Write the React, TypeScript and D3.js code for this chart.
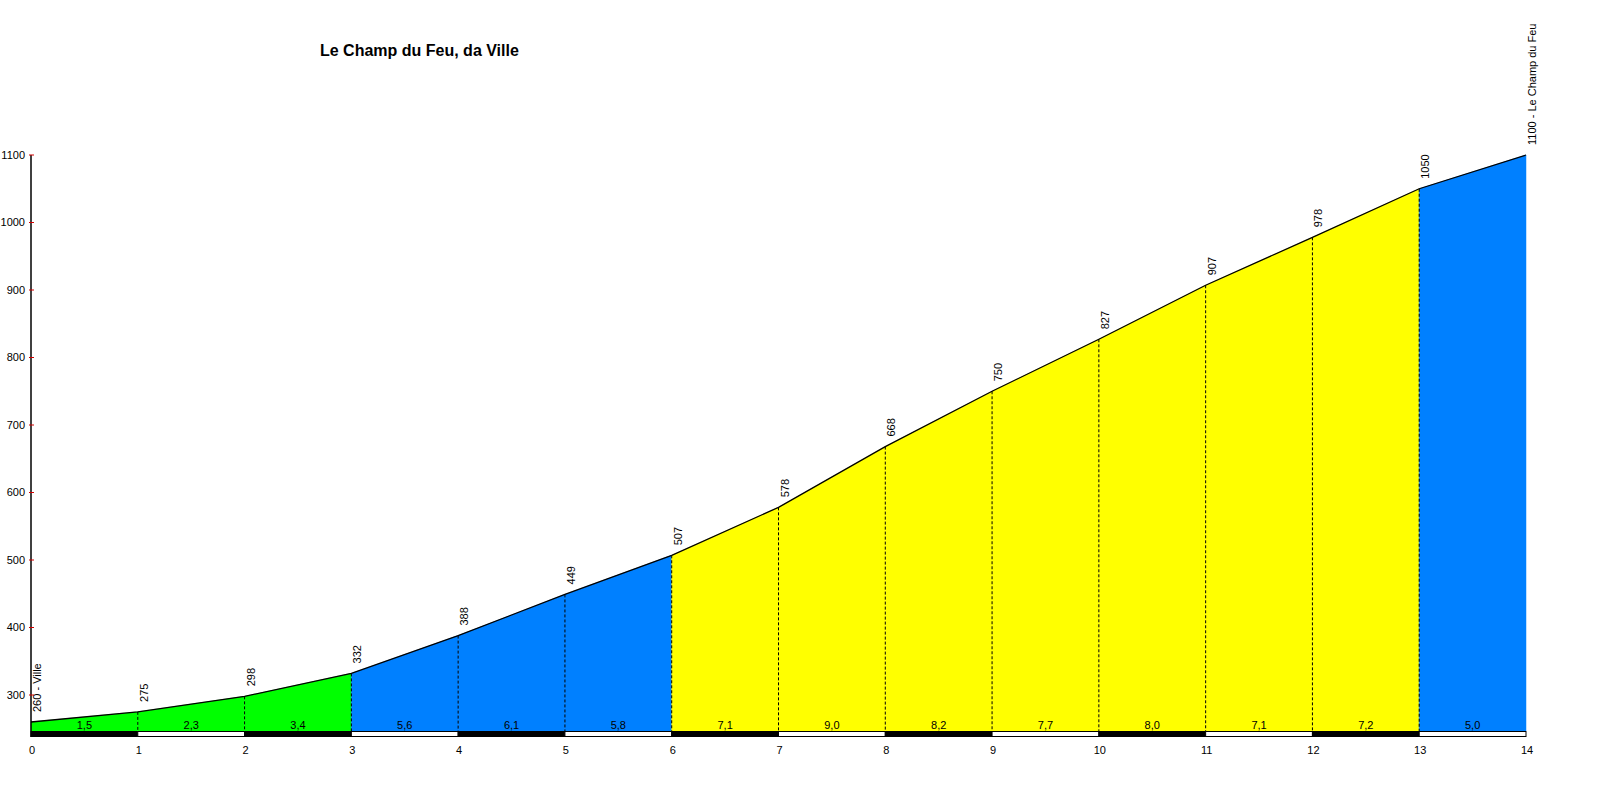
import React, { useEffect, useRef } from 'react';
import * as d3 from 'd3';

const title = 'Le Champ du Feu, da Ville';
const startName = 'Ville';
const endName = 'Le Champ du Feu';

// km marks and elevation (m) at each km
const kms = [0, 1, 2, 3, 4, 5, 6, 7, 8, 9, 10, 11, 12, 13, 14];
const elevations = [260, 275, 298, 332, 388, 449, 507, 578, 668, 750, 827, 907, 978, 1050, 1100];
// average gradient (%) of each km
const gradients = [1.5, 2.3, 3.4, 5.6, 6.1, 5.8, 7.1, 9.0, 8.2, 7.7, 8.0, 7.1, 7.2, 5.0];
const yTicks = [300, 400, 500, 600, 700, 800, 900, 1000, 1100];

const FONT = '"Liberation Sans", Arial, sans-serif';

const App: React.FC = () => {
  const svgRef = useRef<SVGSVGElement>(null);

  useEffect(() => {
    document.body.style.margin = '0';
    if (!svgRef.current) return;
    const svg = d3.select(svgRef.current);
    svg.selectAll('*').remove();

    const x = d3.scaleLinear().domain([0, 14]).range([31, 1526]);
    const y = d3.scaleLinear().domain([300, 1100]).range([695, 155]);
    const baseY = 731;
    const stripH = 6;

    const gradeColor = d3.scaleThreshold<number, string>()
      .domain([5, 7])
      .range(['#00ff00', '#0080ff', '#ffff00']);

    const fmt = (v: number) => d3.format('.1f')(v).replace('.', ',');

    const points: [number, number][] = kms.map((k, i) => [k, elevations[i]]);

    // coloured fill per km
    const area = d3.area<[number, number]>()
      .x(d => x(d[0]))
      .y0(baseY)
      .y1(d => y(d[1]));

    gradients.forEach((g, i) => {
      svg.append('path')
        .attr('d', area([points[i], points[i + 1]]) as string)
        .attr('fill', gradeColor(g))
        .attr('stroke', gradeColor(g))
        .attr('stroke-width', 0.5);
    });

    // dashed km separators
    kms.slice(1, -1).forEach((k, i) => {
      svg.append('line')
        .attr('x1', x(k)).attr('x2', x(k))
        .attr('y1', y(elevations[i + 1])).attr('y2', baseY)
        .attr('stroke', '#000')
        .attr('stroke-width', 1)
        .attr('stroke-dasharray', '3,2');
    });

    // profile line
    const line = d3.line<[number, number]>()
      .x(d => x(d[0]))
      .y(d => y(d[1]));
    svg.append('path')
      .attr('d', line(points) as string)
      .attr('fill', 'none')
      .attr('stroke', '#000')
      .attr('stroke-width', 1.3);

    // black/white km strip
    gradients.forEach((_, i) => {
      const black = i % 2 === 0;
      svg.append('rect')
        .attr('x', x(kms[i]))
        .attr('y', baseY + 0.5)
        .attr('width', x(kms[i + 1]) - x(kms[i]))
        .attr('height', stripH - 1)
        .attr('fill', black ? '#000' : '#fff')
        .attr('stroke', '#000')
        .attr('stroke-width', 1);
    });

    // gradient labels
    gradients.forEach((g, i) => {
      svg.append('text')
        .attr('x', (x(kms[i]) + x(kms[i + 1])) / 2)
        .attr('y', 729)
        .attr('text-anchor', 'middle')
        .attr('font-family', FONT)
        .attr('font-size', 11)
        .attr('fill', '#000')
        .text(fmt(g));
    });

    // elevation labels (rotated)
    kms.forEach((k, i) => {
      let label = String(elevations[i]);
      if (i === 0) label = `${elevations[i]} - ${startName}`;
      if (i === kms.length - 1) label = `${elevations[i]} - ${endName}`;
      const px = x(k) + 10;
      const py = y(elevations[i]) - 10;
      svg.append('text')
        .attr('transform', `translate(${px},${py}) rotate(-90)`)
        .attr('text-anchor', 'start')
        .attr('font-family', FONT)
        .attr('font-size', 11)
        .attr('fill', '#000')
        .text(label);
    });

    // y axis
    svg.append('line')
      .attr('x1', 31).attr('x2', 31)
      .attr('y1', y(1100)).attr('y2', baseY + stripH)
      .attr('stroke', '#000')
      .attr('stroke-width', 1.5);

    yTicks.forEach(t => {
      svg.append('line')
        .attr('x1', 29).attr('x2', 34)
        .attr('y1', y(t)).attr('y2', y(t))
        .attr('stroke', '#d00000')
        .attr('stroke-width', 1);
      svg.append('text')
        .attr('x', 25)
        .attr('y', y(t))
        .attr('dy', '0.35em')
        .attr('text-anchor', 'end')
        .attr('font-family', FONT)
        .attr('font-size', 11)
        .attr('fill', '#000')
        .text(t);
    });

    // x axis labels
    kms.forEach(k => {
      svg.append('text')
        .attr('x', x(k) + 1)
        .attr('y', 754)
        .attr('text-anchor', 'middle')
        .attr('font-family', FONT)
        .attr('font-size', 11)
        .attr('fill', '#000')
        .text(k);
    });

    // title
    svg.append('text')
      .attr('x', 320)
      .attr('y', 56)
      .attr('font-family', FONT)
      .attr('font-size', 16)
      .attr('font-weight', 'bold')
      .attr('fill', '#000')
      .text(title);
  }, []);

  return (
    <svg
      ref={svgRef}
      width={1600}
      height={800}
      style={{ display: 'block', background: '#fff' }}
    />
  );
};

export default App;
